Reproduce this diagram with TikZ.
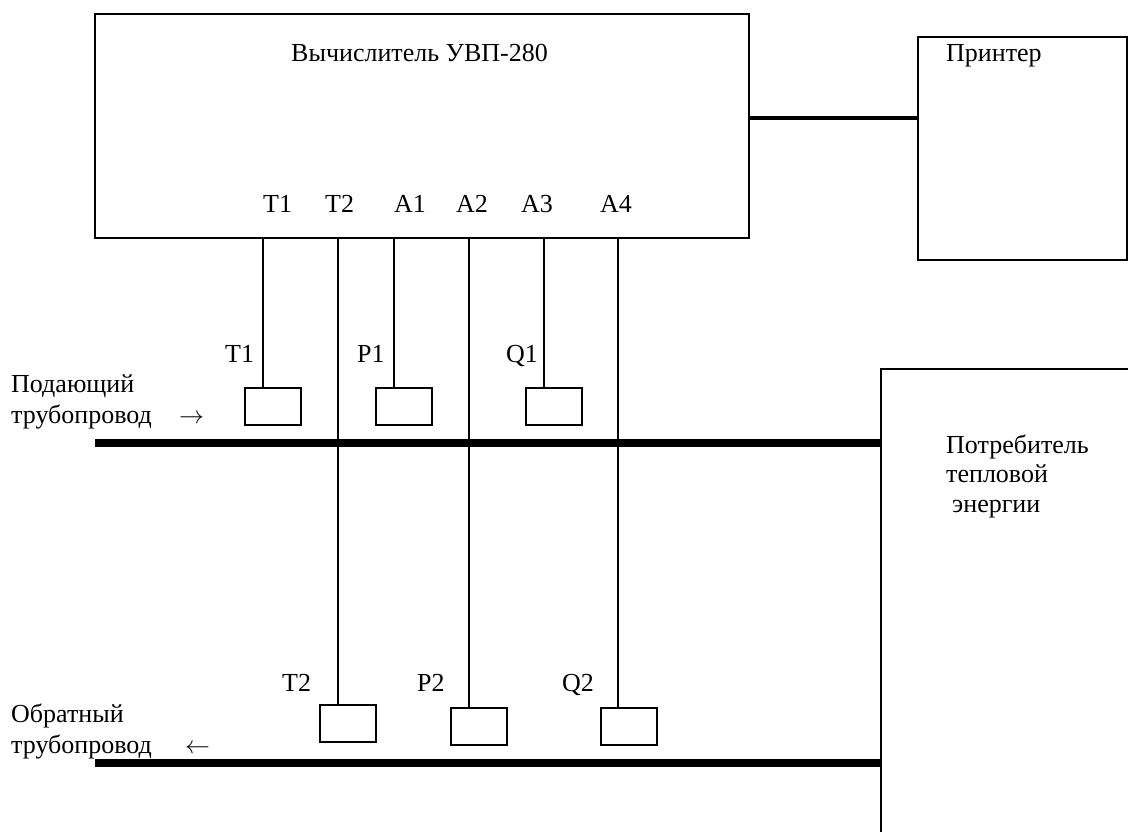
\documentclass[tikz,border=0pt]{standalone}
\usepackage{fontspec}
\setmainfont{Liberation Serif}
\begin{document}
\begin{tikzpicture}[x=1pt,y=-1pt,
  box/.style={draw=black,line width=2pt,inner sep=0pt,outer sep=0pt,anchor=north west},
  sensor/.style={box,minimum width=56pt,minimum height=37pt},
  lbl/.style={inner sep=0pt,anchor=base west,font=\fontsize{26}{30}\selectfont,text=black},
  wire/.style={draw=black,line width=2pt},
  pipe/.style={draw=black,line width=8pt},
  link/.style={draw=black,line width=3.5pt}]
\useasboundingbox (0,0) rectangle (1128,832);
\fill[white] (0,0) rectangle (1128,832);
\node[box,minimum width=654pt,minimum height=224pt] (calc) at (95,14) {};
\node[box,minimum width=209pt,minimum height=223pt] (printer) at (918,37) {};
\draw[link] (calc.east |- 0,118) -- (printer.west |- 0,118);
% consumer (open right and bottom)
\coordinate (c1) at (1128,369);
\coordinate (c2) at (881,369);
\coordinate (c3) at (881,832);
\draw[wire] (c1) -- (c2) -- (c3);
% sensors
\node[sensor] (st1) at (244.5,388) {};
\node[sensor] (sp1) at (375.5,388) {};
\node[sensor] (sq1) at (525.5,388) {};
\node[sensor] (st2) at (319.5,705) {};
\node[sensor] (sp2) at (450.5,708) {};
\node[sensor] (sq2) at (600.5,708) {};
% wires
\draw[wire] (calc.south -| st1.north) ++(-9.5,0) coordinate (t1a) -- (t1a |- st1.north);
\draw[wire] (338,238) coordinate (t2a) -- (t2a |- st2.north);
\draw[wire] (394,238) coordinate (a1a) -- (a1a |- sp1.north);
\draw[wire] (469,238) coordinate (a2a) -- (a2a |- sp2.north);
\draw[wire] (544,238) coordinate (a3a) -- (a3a |- sq1.north);
\draw[wire] (618,238) coordinate (a4a) -- (a4a |- sq2.north);
% pipes
\coordinate (p1a) at (95,443);
\coordinate (p1b) at (881,443);
\draw[pipe] (p1a) -- (p1b);
\coordinate (p2a) at (95,763);
\coordinate (p2b) at (881,763);
\draw[pipe] (p2a) -- (p2b);
% labels
\node[lbl] (n0) at (291,62) {Вычислитель УВП-280};
\node[lbl] (n1) at (946,62) {Принтер};
\node[lbl] (n2) at (263,212) {Т1};
\node[lbl] (n3) at (325,212) {Т2};
\node[lbl] (n4) at (394,212) {А1};
\node[lbl] (n5) at (456,212) {А2};
\node[lbl] (n6) at (521,212) {А3};
\node[lbl] (n7) at (600,212) {А4};
\node[lbl] (n8) at (225,362) {Т1};
\node[lbl] (n9) at (357,362) {Р1};
\node[lbl] (n10) at (506,362) {Q1};
\node[lbl] (n11) at (11,392) {Подающий};
\node[lbl] (n12) at (11,423) {трубопровод};
\node[lbl] (n13) at (179,423) {$\rightarrow$};
\node[lbl] (n14) at (946,453) {Потребитель};
\node[lbl] (n15) at (946,482) {тепловой};
\node[lbl] (n16) at (952,512) {энергии};
\node[lbl] (n17) at (282,691) {Т2};
\node[lbl] (n18) at (417,691) {Р2};
\node[lbl] (n19) at (562,691) {Q2};
\node[lbl] (n20) at (11,722) {Обратный};
\node[lbl] (n21) at (11,753) {трубопровод};
\node[lbl] (n22) at (185,753) {$\leftarrow$};
\end{tikzpicture}
\end{document}
